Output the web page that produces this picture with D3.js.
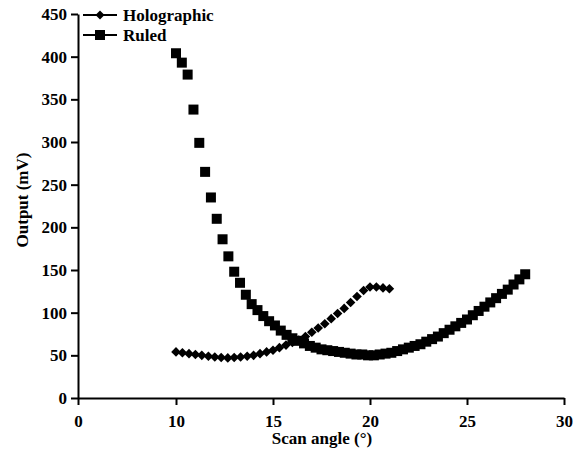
<!DOCTYPE html>
<html>
<head>
<meta charset="utf-8">
<script src="https://cdn.jsdelivr.net/npm/d3@7/dist/d3.min.js"></script>
<style>
  body { margin: 0; background: #fff; }
</style>
</head>
<body>
<div id="wrapper"></div>
<script>
// Holographic grating
const holoAngle = [10.00, 10.33, 10.67, 11.00, 11.33, 11.67, 12.00, 12.33, 12.67, 13.00,
  13.33, 13.67, 14.00, 14.33, 14.67, 15.00, 15.33, 15.67, 16.00, 16.33,
  16.67, 17.00, 17.33, 17.67, 18.00, 18.33, 18.67, 19.00, 19.33, 19.67,
  20.00, 20.33, 20.67, 21.00];
const holoOutput = [54, 53, 52, 51, 50, 49, 48, 47.5, 47, 47.5,
  48, 49, 50, 52, 54, 56, 59, 62, 65, 68,
  72, 77, 82, 87, 93, 99, 105, 112, 119, 126,
  130, 130, 129, 128];

// Ruled grating
const ruledAngle = [10.0, 10.3, 10.6, 10.9, 11.2, 11.5, 11.8, 12.1, 12.4, 12.7,
  13.0, 13.3, 13.6, 13.9, 14.2, 14.5, 14.8, 15.1, 15.4, 15.7,
  16.0, 16.3, 16.6, 16.9, 17.2, 17.5, 17.8, 18.1, 18.4, 18.7,
  19.0, 19.3, 19.6, 19.9, 20.2, 20.5, 20.8, 21.1, 21.4, 21.7,
  22.0, 22.3, 22.6, 22.9, 23.2, 23.5, 23.8, 24.1, 24.4, 24.7,
  25.0, 25.3, 25.6, 25.9, 26.2, 26.5, 26.8, 27.1, 27.4, 27.7, 28.0];
const ruledOutput = [404, 393, 379, 338, 299, 265, 235, 210, 186, 166,
  148, 135, 121, 110, 103, 96, 90, 85, 79, 74,
  70, 67, 64, 61, 59, 57, 56, 55, 54, 53,
  52, 51, 51, 50, 50, 51, 52, 53, 55, 57,
  59, 61, 63, 66, 69, 72, 76, 80, 84, 88,
  92, 97, 102, 107, 112, 117, 122, 127, 133, 139, 145];

const seriesNames = ["Holographic", "Ruled"];
const xTicks = [0, 10, 15, 20, 25, 30];
const yTicks = [0, 50, 100, 150, 200, 250, 300, 350, 400, 450];

const width = 586, height = 459;
const serif = "'Liberation Serif', Tinos, 'Times New Roman', 'DejaVu Serif', serif";
const svg = d3.select("#wrapper").append("svg")
  .attr("width", width).attr("height", height)
  .attr("font-family", serif)
  .attr("font-weight", "bold");

// axis is broken between 0 and 10
const x = d3.scaleLinear().domain([0, 10, 30]).range([78, 176, 564]);
const y = d3.scaleLinear().domain([0, 450]).range([398, 14]);

const xAxis = svg.append("g")
  .attr("transform", `translate(0,${y(0)})`)
  .call(d3.axisBottom(x).tickValues(xTicks).tickSize(7).tickSizeOuter(0).tickPadding(10));
const yAxis = svg.append("g")
  .attr("transform", `translate(${x(0)},0)`)
  .call(d3.axisLeft(y).tickValues(yTicks).tickSize(7).tickSizeOuter(0).tickPadding(4));

[xAxis, yAxis].forEach((g) => {
  g.attr("font-family", serif).attr("font-size", 17);
  g.selectAll("path, line").attr("stroke", "#000").attr("stroke-width", 2);
  g.selectAll("text").attr("fill", "#000");
});

const diamond = (s) => `M0,${-s}L${s},0L0,${s}L${-s},0Z`;

svg.append("g").selectAll("path")
  .data(holoAngle.map((a, i) => [a, holoOutput[i]]))
  .join("path")
  .attr("transform", (d) => `translate(${x(d[0])},${y(d[1])})`)
  .attr("d", diamond(4.8))
  .attr("fill", "#000");

svg.append("g").selectAll("rect")
  .data(ruledAngle.map((a, i) => [a, ruledOutput[i]]))
  .join("rect")
  .attr("x", (d) => x(d[0]) - 5)
  .attr("y", (d) => y(d[1]) - 5)
  .attr("width", 10)
  .attr("height", 10)
  .attr("fill", "#000");

// legend
const legend = svg.append("g").selectAll("g")
  .data(seriesNames)
  .join("g")
  .attr("transform", (d, i) => `translate(83, ${15 + 20 * i})`);
legend.append("line")
  .attr("x1", 0).attr("x2", 34)
  .attr("stroke", "#000").attr("stroke-width", 2);
legend.append("path")
  .attr("transform", "translate(17,0)")
  .attr("d", (d, i) => i == 0 ? diamond(4.5) : "M-5,-5h10v10h-10Z")
  .attr("fill", "#000");
legend.append("text")
  .attr("x", 40).attr("y", 6)
  .attr("font-size", 17)
  .text((d) => d);

// axis titles
svg.append("text")
  .attr("x", 322).attr("y", 444)
  .attr("text-anchor", "middle")
  .attr("font-size", 17)
  .text("Scan angle (°)");
svg.append("text")
  .attr("transform", "translate(28,200) rotate(-90)")
  .attr("text-anchor", "middle")
  .attr("font-size", 17)
  .text("Output (mV)");
</script>
</body>
</html>
